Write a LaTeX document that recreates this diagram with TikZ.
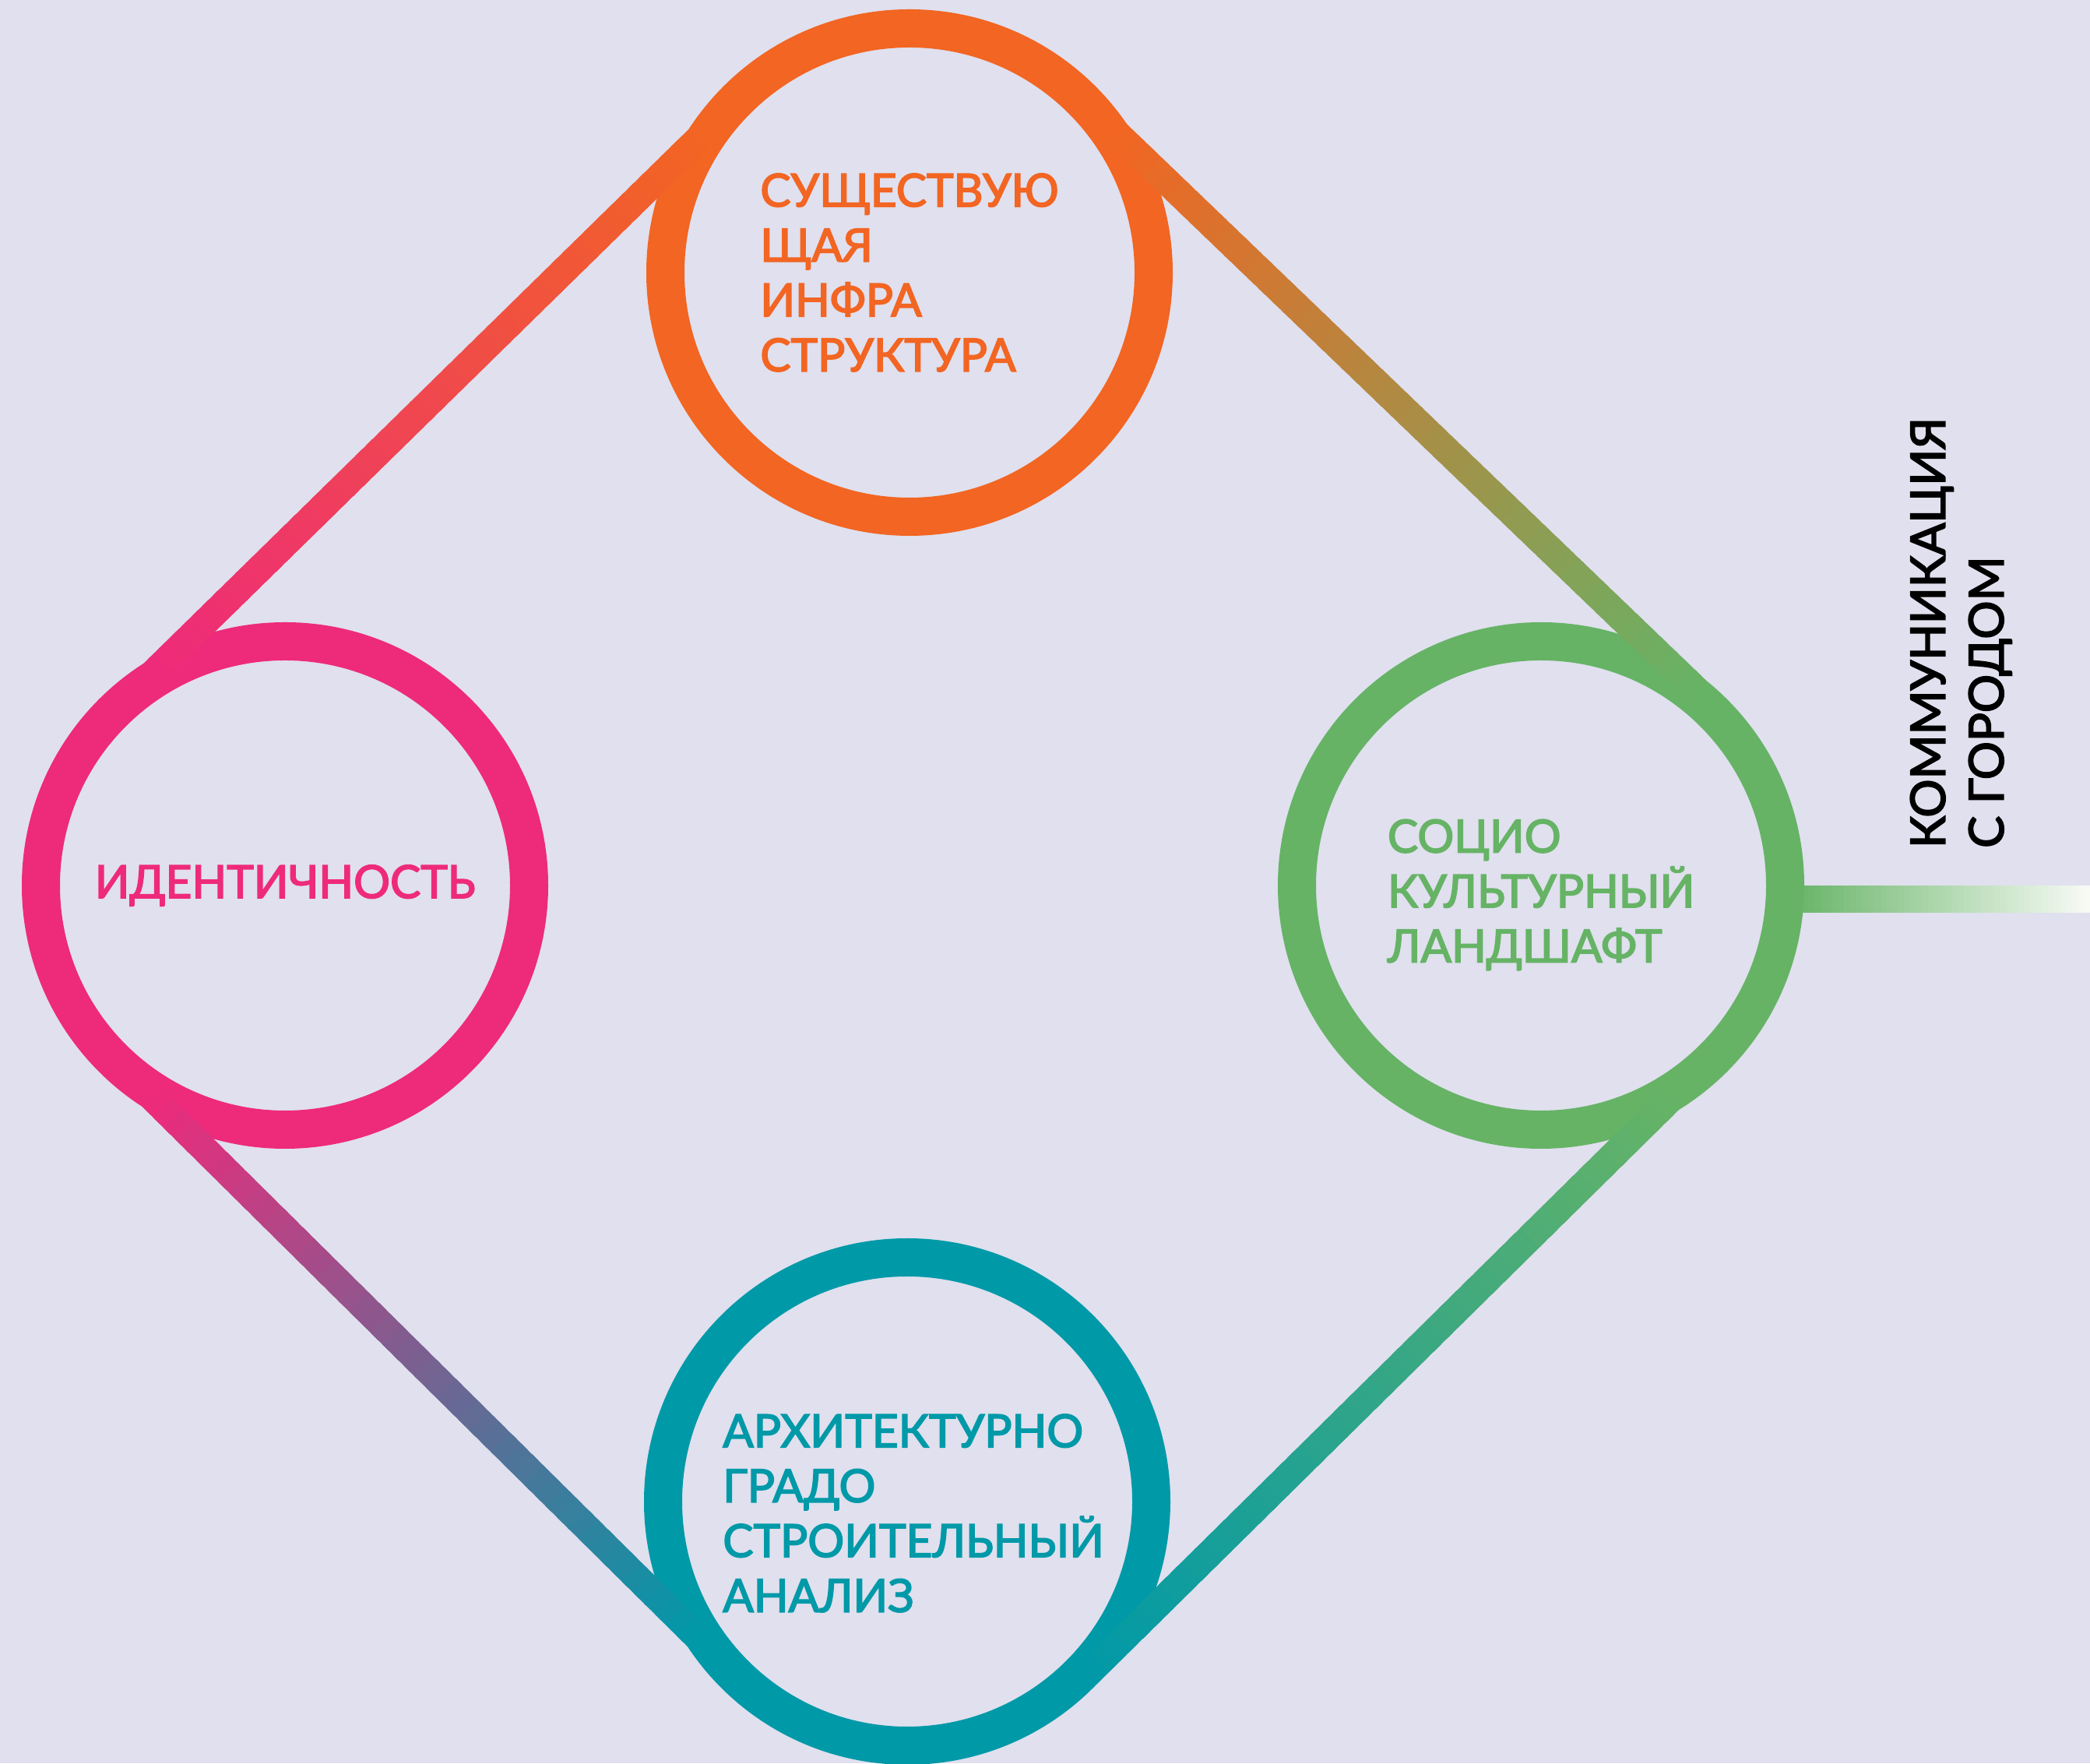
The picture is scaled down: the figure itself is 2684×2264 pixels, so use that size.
\documentclass[tikz,border=0pt]{standalone}
\usepackage{fontspec}
\setmainfont{Lato}
\newfontfamily\lblfont{Lato}[FakeBold=2.8]
\newfontfamily\sidefont{Lato}[FakeBold=3]
\usetikzlibrary{calc}
\definecolor{bg}{HTML}{E0E0EE}
\definecolor{corange}{HTML}{F26522}
\definecolor{cpink}{HTML}{EE2A7B}
\definecolor{cgreen}{HTML}{66B366}
\definecolor{cteal}{HTML}{0099A8}
\definecolor{cwhite}{HTML}{F8FBF6}
\newcommand\mygradline[5]{%
  \foreach \i in {0,...,49}{%
    \pgfmathsetmacro\ta{\i/50}%
    \pgfmathsetmacro\tb{min(1,(\i+1.6)/50)}%
    \pgfmathsetmacro\pc{100-100*(\i+0.5)/50}%
    \draw[line width=#5, #3!\pc!#4] ($(#1)!\ta!(#2)$) -- ($(#1)!\tb!(#2)$);
  }}
\begin{document}
\begin{tikzpicture}[x=1pt,y=1pt,
  ring/.style={circle, draw=#1, line width=49pt, minimum size=627pt, inner sep=0pt},
  lbl/.style={font=\lblfont\fontsize{58.6}{70.5}\selectfont, align=left, inner sep=0pt},
  side/.style={font=\sidefont\fontsize{61.4}{75}\selectfont, align=left, inner sep=0pt, text=black}]
\fill[bg] (0,0) rectangle (2684,2264);
\useasboundingbox (0,0) rectangle (2684,2264);
% centres
\coordinate (cT) at (1168,1914);
\coordinate (cL) at (366,1127);
\coordinate (cR) at (1979,1127);
\coordinate (cB) at (1165,336);
% horizontal connector to the city
\coordinate (hs) at ($(cR)+(320,-18)$);
\coordinate (he) at (2684,1109);
\mygradline{hs}{he}{cgreen}{cwhite}{35pt}
% rings
\node[ring=corange] (T) at (cT) {};
\node[ring=cpink]   (L) at (cL) {};
\node[ring=cgreen]  (R) at (cR) {};
\node[ring=cteal]   (B) at (cB) {};
% points where the outer edge of each connector leaves the rings
\coordinate (tlE1) at ($(T.center)+(147:338)$);
\coordinate (tlE2) at ($(L.center)+(122.5:338)$);
\coordinate (trE1) at ($(T.center)+(34.3:338)$);
\coordinate (trE2) at ($(R.center)+(51.1:338)$);
\coordinate (lbE1) at ($(L.center)+(237.1:338)$);
\coordinate (lbE2) at ($(B.center)+(213.4:338)$);
\coordinate (brE1) at ($(B.center)+(-44:338)$);
\coordinate (brE2) at ($(R.center)+(-58.4:338)$);
% centre lines of the connectors
\coordinate (tla) at ($(tlE1)!17.5pt!90:(tlE2)$);
\coordinate (tlb) at ($(tlE2)!17.5pt!-90:(tlE1)$);
\coordinate (tra) at ($(trE1)!17.5pt!-90:(trE2)$);
\coordinate (trb) at ($(trE2)!17.5pt!90:(trE1)$);
\coordinate (lba) at ($(lbE1)!17.5pt!90:(lbE2)$);
\coordinate (lbb) at ($(lbE2)!17.5pt!-90:(lbE1)$);
\coordinate (bra) at ($(brE1)!17.5pt!90:(brE2)$);
\coordinate (brb) at ($(brE2)!17.5pt!-90:(brE1)$);
\mygradline{tla}{tlb}{corange}{cpink}{35pt}
\mygradline{tra}{trb}{corange}{cgreen}{35pt}
\mygradline{lba}{lbb}{cpink}{cteal}{35pt}
\mygradline{bra}{brb}{cteal}{cgreen}{35pt}
% labels
\node[lbl, text=corange] (Tt) at (T.center) {СУЩЕСТВУЮ\\ЩАЯ\\ИНФРА\\СТРУКТУРА};
\node[lbl, text=cpink] (Lt) at (L.center) {ИДЕНТИЧНОСТЬ};
\node[lbl, text=cgreen] (Rt) at ($(R.center)+(0,-12)$) {СОЦИО\\КУЛЬТУРНЫЙ\\ЛАНДШАФТ};
\node[lbl, text=cteal] (Bt) at ($(B.center)+(8,-15)$) {АРХИТЕКТУРНО\\ГРАДО\\СТРОИТЕЛЬНЫЙ\\АНАЛИЗ};
\node[side, rotate=90, anchor=north west] (St) at (2453,1175) {КОММУНИКАЦИЯ\\С ГОРОДОМ};
\end{tikzpicture}
\end{document}
